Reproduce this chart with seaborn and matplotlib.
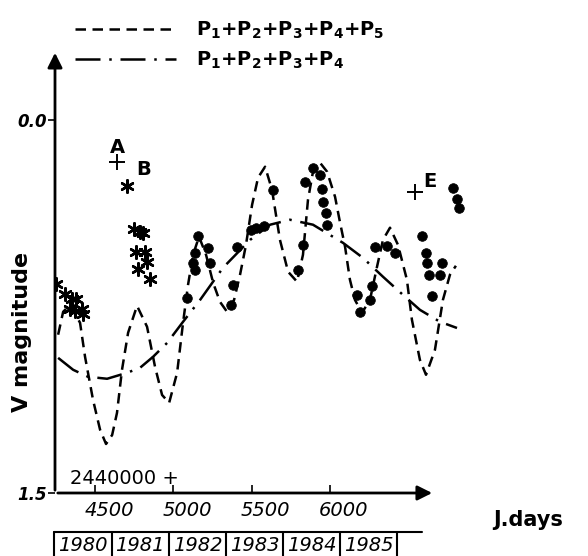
import numpy as np
import pandas as pd
import seaborn as sns
import matplotlib.pyplot as plt
from matplotlib.lines import Line2D
from matplotlib.transforms import ScaledTranslation

# observations (JD - 2440000, V magnitude)
star_jd = [4251, 4308, 4353, 4379, 4340, 4372, 4417, 4423, 4704,
           4749, 4787, 4807, 4762, 4819, 4832, 4775, 4851]
star_mag = [0.66, 0.70, 0.72, 0.72, 0.76, 0.77, 0.76, 0.78, 0.265,
            0.44, 0.45, 0.455, 0.53, 0.53, 0.57, 0.60, 0.64]

dot_jd = [5088, 5158, 5222, 5139, 5126, 5139, 5234, 5381, 5369, 5407,
          5496, 5528, 5579, 5637, 5828, 5796, 5841, 5892, 5937, 5950,
          5956, 5975, 5982, 6288, 6365, 6416, 6269, 6256, 6173, 6192,
          6588, 6614, 6620, 6716, 6633, 6703, 6652, 6786, 6812, 6825]
dot_mag = [0.716, 0.466, 0.515, 0.535, 0.575, 0.603, 0.575, 0.663, 0.745, 0.511,
           0.442, 0.434, 0.426, 0.281, 0.503, 0.603, 0.249, 0.193, 0.221, 0.277,
           0.330, 0.374, 0.422, 0.511, 0.507, 0.535, 0.667, 0.724, 0.704, 0.772,
           0.466, 0.535, 0.575, 0.575, 0.623, 0.623, 0.708, 0.273, 0.318, 0.354]

plus_jd = [4640, 6543]
plus_mag = [0.17, 0.29]

# fitted curves
fit5_jd = [4264, 4296, 4340, 4404, 4436, 4487, 4532, 4570, 4609, 4640, 4672, 4711,
           4768, 4832, 4883, 4928, 4973, 5024, 5062, 5094, 5126, 5164, 5209, 5254,
           5298, 5343, 5388, 5426, 5464, 5503, 5541, 5586, 5630, 5681, 5733, 5790,
           5828, 5860, 5892, 5937, 5982, 6033, 6065, 6097, 6128, 6160, 6205, 6256,
           6301, 6339, 6384, 6435, 6492, 6524, 6575, 6614, 6671, 6722, 6767, 6805]
fit5_mag = [0.864, 0.772, 0.744, 0.816, 0.953, 1.126, 1.246, 1.303, 1.267, 1.178, 1.005, 0.856,
            0.748, 0.832, 0.993, 1.106, 1.138, 1.017, 0.816, 0.663, 0.543, 0.470, 0.543, 0.655,
            0.732, 0.772, 0.724, 0.623, 0.503, 0.342, 0.233, 0.189, 0.281, 0.483, 0.611, 0.651,
            0.543, 0.322, 0.209, 0.173, 0.209, 0.310, 0.414, 0.511, 0.643, 0.724, 0.776, 0.724,
            0.591, 0.483, 0.434, 0.503, 0.643, 0.804, 0.965, 1.025, 0.925, 0.724, 0.623, 0.587]

fit4_jd = [4264, 4360, 4455, 4577, 4704, 4787, 4870, 4960, 5062, 5171, 5317,
           5490, 5618, 5745, 5892, 6084, 6211, 6339, 6467, 6575, 6703, 6812]
fit4_mag = [0.957, 1.005, 1.033, 1.041, 1.017, 0.997, 0.953, 0.897, 0.812, 0.724, 0.595,
            0.483, 0.422, 0.402, 0.422, 0.495, 0.555, 0.631, 0.704, 0.764, 0.812, 0.837]

x_ticks = [4500, 5000, 5500, 6000]
years = ["1980", "1981", "1982", "1983", "1984", "1985"]
year_starts = [4239.5, 4605.5, 4970.5, 5335.5, 5700.5, 6066.5, 6431.5]

sns.set_style("white")
plt.rcParams["font.family"] = ["DejaVu Sans"]
plt.rcParams["text.color"] = "k"
plt.rcParams["xtick.color"] = "k"
plt.rcParams["ytick.color"] = "k"

fig = plt.figure(figsize=(5.88, 5.56), dpi=100)
ax = fig.add_axes([55 / 588, 1 - 493 / 556, 415 / 588, 443 / 556])

dash5 = (0, (4.2, 2.6))
dash4 = (0, (10, 3.5, 1, 3.5))

sns.lineplot(x=fit5_jd, y=fit5_mag, ax=ax, color="k", lw=1.8, linestyle=dash5)
sns.lineplot(x=fit4_jd, y=fit4_mag, ax=ax, color="k", lw=1.8, linestyle=dash4)

sns.scatterplot(x=dot_jd, y=dot_mag, ax=ax, color="k", s=48, edgecolor="k")
ax.scatter(star_jd, star_mag, marker=(6, 2, 0), s=80, color="k", linewidths=1.8)
ax.scatter(plus_jd, plus_mag, marker="+", s=120, color="k", linewidths=1.4)

ax.text(4640, 0.11, "A", ha="center", va="center", fontsize=14, fontweight="bold")
ax.text(4807, 0.20, "B", ha="center", va="center", fontsize=14, fontweight="bold")
ax.text(6639, 0.25, "E", ha="center", va="center", fontsize=14, fontweight="bold")

ax.set_xlim(4244, 6895)
ax.set_ylim(1.5, -0.28)
for s in ax.spines.values():
    s.set_visible(False)

# axes drawn as arrows
arrow = dict(arrowstyle="-|>", lw=2, color="k", mutation_scale=22)
ax.annotate("", xy=(6671, 1.5), xytext=(4244, 1.5), arrowprops=arrow, annotation_clip=False)
ax.annotate("", xy=(4244, -0.28), xytext=(4244, 1.5), arrowprops=arrow, annotation_clip=False)

ax.set_xticks(x_ticks)
ax.set_xticklabels([str(t) for t in x_ticks], fontsize=14, style="italic")
ax.tick_params(axis="x", direction="in", length=6, width=1.2, pad=6, bottom=True)
ax.set_yticks([0.0, 1.5])
ax.set_yticklabels(["0.0", "1.5"], fontsize=12, style="italic", fontweight="bold")
ax.tick_params(axis="y", direction="out", length=5, width=1.2, pad=1, left=True)
off = ScaledTranslation(10 / 72, 0, fig.dpi_scale_trans)
for lbl in ax.get_xticklabels():
    lbl.set_transform(lbl.get_transform() + off)

ax.text(4340, 1.44, "2440000 +", fontsize=14, va="center", ha="left")

fig.text(22 / 588, 1 - 332 / 556, "V magnitude", rotation=90, ha="center", va="center",
         fontsize=16, fontweight="bold")
fig.text(493 / 588, 1 - 520 / 556, "J.days", ha="left", va="center",
         fontsize=15, fontweight="bold")

# calendar years strip
tr = ax.get_xaxis_transform()
ax.plot([year_starts[0], 6588], [-0.088, -0.088], color="k", lw=1.5, transform=tr, clip_on=False)
for xs in year_starts:
    ax.plot([xs, xs], [-0.088, -0.16], color="k", lw=1.5, transform=tr, clip_on=False)
for i, y in enumerate(years):
    mid = (year_starts[i] + year_starts[i + 1]) / 2
    ax.text(mid, -0.118, y, transform=tr, ha="center", va="center", fontsize=14, style="italic")

handles = [
    Line2D([], [], color="k", lw=1.8, linestyle=dash5),
    Line2D([], [], color="k", lw=1.8, linestyle=dash4),
]
labels = [r"$\mathbf{P_1{+}P_2{+}P_3{+}P_4{+}P_5}$", r"$\mathbf{P_1{+}P_2{+}P_3{+}P_4}$"]
fig.legend(handles, labels, loc="upper left", bbox_to_anchor=(75 / 588, 1 - 20 / 556),
           frameon=False, fontsize=14, handlelength=5.2, handletextpad=1.0,
           labelspacing=0.45, borderpad=0, borderaxespad=0)

fig.savefig("out.png", dpi=100)
